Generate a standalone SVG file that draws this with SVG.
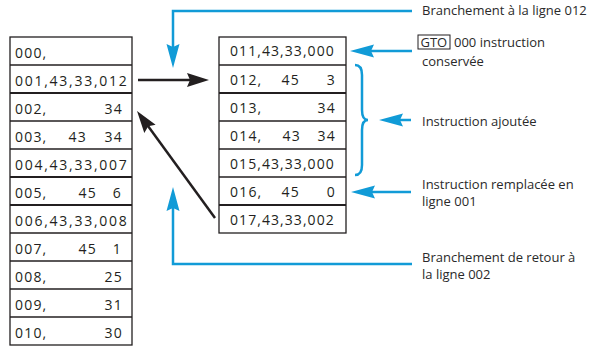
<svg xmlns="http://www.w3.org/2000/svg" width="590" height="347" viewBox="0 0 590 347">
<style>
.cell{fill:none;stroke:#231f20;stroke-width:1.3}
.sep{stroke:#231f20;stroke-width:1.3}
.sepb{stroke:#231f20;stroke-width:2}
.t{font-family:"Open Sans","DejaVu Sans",sans-serif;font-size:14px;fill:#231f20;letter-spacing:1.2px}
.e{text-anchor:end}
.lbl{font-family:"Open Sans","DejaVu Sans",sans-serif;font-size:13px;fill:#2a2a2a}
.blue{fill:none;stroke:#119bd7;stroke-width:2.5}
.blk{fill:none;stroke:#231f20;stroke-width:2.5}
</style>
<defs>
<marker id="ab" markerUnits="userSpaceOnUse" viewBox="-25 -7 26 14" refX="-10" refY="0" markerWidth="26" markerHeight="14" orient="auto">
<path d="M0,0 L-24,-6.5 L-21,0 L-24,6.5 Z" fill="#119bd7"/>
</marker>
<marker id="ak" markerUnits="userSpaceOnUse" viewBox="-24 -8 25 16" refX="-10" refY="0" markerWidth="25" markerHeight="16" orient="auto">
<path d="M0,0 L-22,-7 L-19,0 L-22,7 Z" fill="#231f20"/>
</marker>
</defs>
<rect width="590" height="347" fill="#ffffff"/>

<g id="left-table">
<rect class="cell" x="10" y="37" width="122" height="308"/>
<line class="sep" x1="10" y1="65" x2="132" y2="65"/>
<line class="sepb" x1="10" y1="93" x2="132" y2="93"/>
<line class="sep" x1="10" y1="121" x2="132" y2="121"/>
<line class="sep" x1="10" y1="149" x2="132" y2="149"/>
<line class="sepb" x1="10" y1="177" x2="132" y2="177"/>
<line class="sepb" x1="10" y1="205" x2="132" y2="205"/>
<line class="sep" x1="10" y1="233" x2="132" y2="233"/>
<line class="sep" x1="10" y1="261" x2="132" y2="261"/>
<line class="sep" x1="10" y1="289" x2="132" y2="289"/>
<line class="sep" x1="10" y1="317" x2="132" y2="317"/>
<g id="row-000"><text class="t" x="15" y="58">000,</text></g>
<g id="row-001"><text class="t" x="15" y="86" textLength="113" lengthAdjust="spacing">001,43,33,012</text></g>
<g id="row-002"><text class="t" x="15" y="114">002,</text><text class="t e" x="123" y="114">34</text></g>
<g id="row-003"><text class="t" x="15" y="142">003,</text><text class="t e" x="87" y="142">43</text><text class="t e" x="123" y="142">34</text></g>
<g id="row-004"><text class="t" x="15" y="170" textLength="113" lengthAdjust="spacing">004,43,33,007</text></g>
<g id="row-005"><text class="t" x="15" y="198">005,</text><text class="t e" x="97" y="198">45</text><text class="t e" x="122" y="198">6</text></g>
<g id="row-006"><text class="t" x="15" y="226" textLength="113" lengthAdjust="spacing">006,43,33,008</text></g>
<g id="row-007"><text class="t" x="15" y="254">007,</text><text class="t e" x="97" y="254">45</text><text class="t e" x="122" y="254">1</text></g>
<g id="row-008"><text class="t" x="15" y="282">008,</text><text class="t e" x="123" y="282">25</text></g>
<g id="row-009"><text class="t" x="15" y="310">009,</text><text class="t e" x="123" y="310">31</text></g>
<g id="row-010"><text class="t" x="15" y="338">010,</text><text class="t e" x="123" y="338">30</text></g>
</g>

<g id="right-table">
<rect class="cell" x="219" y="37" width="127" height="196"/>
<line class="sep" x1="219" y1="65" x2="346" y2="65"/>
<line class="sepb" x1="219" y1="93" x2="346" y2="93"/>
<line class="sep" x1="219" y1="121" x2="346" y2="121"/>
<line class="sep" x1="219" y1="149" x2="346" y2="149"/>
<line class="sep" x1="219" y1="177" x2="346" y2="177"/>
<line class="sepb" x1="219" y1="205" x2="346" y2="205"/>
<g id="row-011"><text class="t" x="230" y="56" textLength="105" lengthAdjust="spacing">011,43,33,000</text></g>
<g id="row-012"><text class="t" x="230" y="85">012,</text><text class="t e" x="300" y="85">45</text><text class="t e" x="336" y="85">3</text></g>
<g id="row-013"><text class="t" x="230" y="113">013,</text><text class="t e" x="336" y="113">34</text></g>
<g id="row-014"><text class="t" x="230" y="141">014,</text><text class="t e" x="301" y="141">43</text><text class="t e" x="336" y="141">34</text></g>
<g id="row-015"><text class="t" x="230" y="169" textLength="105" lengthAdjust="spacing">015,43,33,000</text></g>
<g id="row-016"><text class="t" x="230" y="197">016,</text><text class="t e" x="300" y="197">45</text><text class="t e" x="336" y="197">0</text></g>
<g id="row-017"><text class="t" x="230" y="225" textLength="105" lengthAdjust="spacing">017,43,33,002</text></g>
</g>

<g id="connectors">
<path class="blue" d="M412,11 H173 V58" marker-end="url(#ab)"/>
<path class="blue" d="M412,51 H360" marker-end="url(#ab)"/>
<path class="blue" d="M411,120 H389" marker-end="url(#ab)"/>
<path class="blue" d="M411,192 H361" marker-end="url(#ab)"/>
<path class="blue" d="M412,264 H173 V197" marker-end="url(#ab)"/>
<path class="blk" d="M138,80 H199" marker-end="url(#ak)"/>
<path class="blk" d="M215,218 L142.9,119.1" marker-end="url(#ak)"/>
</g>

<g id="brace">
<path class="blue" d="M355,65 Q362,65 362,75 L362,110 Q362,120 368,120 Q362,120 362,130 L362,165 Q362,175 355,175"/>
</g>

<g id="label-branch-012"><text class="lbl" x="422" y="15">Branchement à la ligne 012</text></g>
<g id="label-gto">
<rect x="418" y="35" width="32" height="14" fill="none" stroke="#231f20" stroke-width="1"/>
<text class="lbl" x="420.5" y="46.5">GTO</text>
<text class="lbl" x="454" y="46.5">000 instruction</text>
<text class="lbl" x="422" y="66">conservée</text>
</g>
<g id="label-ajoutee"><text class="lbl" x="422" y="126">Instruction ajoutée</text></g>
<g id="label-remplacee">
<text class="lbl" x="422" y="189">Instruction remplacée en</text>
<text class="lbl" x="422" y="206">ligne 001</text>
</g>
<g id="label-retour">
<text class="lbl" x="422" y="262">Branchement de retour à</text>
<text class="lbl" x="422" y="279">la ligne 002</text>
</g>
</svg>
